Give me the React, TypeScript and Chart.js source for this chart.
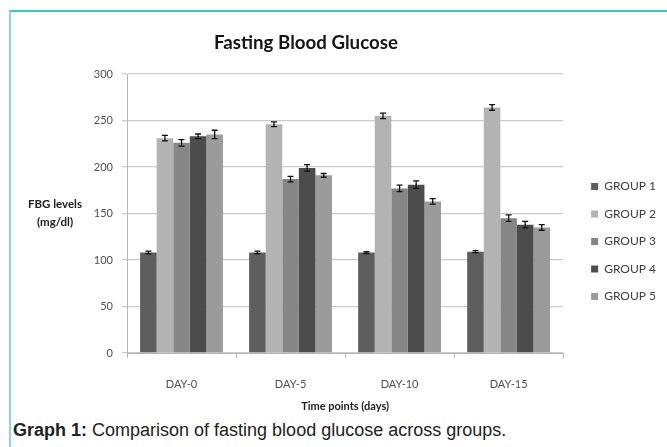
import React, { useEffect, useRef } from "react";
import { Chart, registerables } from "chart.js";

Chart.register(...registerables);

const categories = ["DAY-0", "DAY-5", "DAY-10", "DAY-15"];
const seriesNames = ["GROUP 1", "GROUP 2", "GROUP 3", "GROUP 4", "GROUP 5"];
const group1 = [108, 108, 108, 109];
const group2 = [231, 246, 255, 264];
const group3 = [226, 187, 177, 145];
const group4 = [233, 199, 181, 138];
const group5 = [235, 191, 163, 135];
const err1 = [1.5, 1.5, 1, 1];
const err2 = [3, 2.5, 3, 3];
const err3 = [3.5, 3, 3.5, 3.5];
const err4 = [2.5, 3.5, 4, 3.5];
const err5 = [4.5, 2, 3, 3];
const yTicks = [0, 50, 100, 150, 200, 250, 300];
const colors = ["#5e5e5e", "#b3b3b3", "#868686", "#4c4c4c", "#9b9b9b"];

const FONT = "Lato, 'Liberation Sans', sans-serif";

const errorBarPlugin = {
  id: "errorBars",
  afterDatasetsDraw(chart: any) {
    const ctx = chart.ctx;
    const yScale = chart.scales.y;
    ctx.save();
    ctx.strokeStyle = "#111111";
    ctx.lineWidth = 1.3;
    chart.data.datasets.forEach((ds: any, i: number) => {
      const meta = chart.getDatasetMeta(i);
      meta.data.forEach((bar: any, j: number) => {
        const v = ds.data[j];
        const e = ds.errors[j];
        const x = bar.x;
        const yt = yScale.getPixelForValue(v + e);
        const yb = yScale.getPixelForValue(v - e);
        ctx.beginPath();
        ctx.moveTo(x, yt);
        ctx.lineTo(x, yb);
        ctx.moveTo(x - 3, yt);
        ctx.lineTo(x + 3, yt);
        ctx.moveTo(x - 3, yb);
        ctx.lineTo(x + 3, yb);
        ctx.stroke();
      });
    });
    ctx.restore();
  },
};

export default function App() {
  const ref = useRef<HTMLCanvasElement | null>(null);

  useEffect(() => {
    if (!ref.current) return;
    const values = [group1, group2, group3, group4, group5];
    const errors = [err1, err2, err3, err4, err5];
    const chart = new Chart(ref.current, {
      type: "bar",
      data: {
        labels: categories,
        datasets: seriesNames.map((name, i) => ({
          label: name,
          data: values[i],
          errors: errors[i],
          backgroundColor: colors[i],
          borderWidth: 0,
          categoryPercentage: 0.76,
          barPercentage: 1,
        })) as any,
      },
      options: {
        animation: false,
        responsive: false,
        devicePixelRatio: 1,
        layout: { padding: { top: 74, left: 60, right: 1, bottom: 0 } },
        plugins: {
          title: { display: false },
          tooltip: { enabled: false },
          legend: {
            position: "right",
            align: "center",
            fullSize: false,
            title: { display: true, text: "", padding: 0, font: { size: 10, lineHeight: "56px" } },
            labels: {
              boxWidth: 7,
              boxHeight: 7,
              padding: 15.5,
              color: "#404040",
              font: { family: FONT, size: 12 },
            },
          },
        },
        scales: {
          x: {
            grid: {
              display: true,
              drawOnChartArea: false,
              drawTicks: true,
              tickLength: 5,
              offset: true,
              color: "#b4b4b4",
            },
            border: { display: true, color: "#b4b4b4", width: 1 },
            ticks: { color: "#505050", padding: 20, font: { family: FONT, size: 11 } },
            title: {
              display: true,
              text: "Time points (days)",
              color: "#202020",
              padding: { top: 4, bottom: 7 },
              font: { family: FONT, size: 11, weight: "bold" },
            },
            afterFit: (s: any) => {
              s.height = 67;
            },
          },
          y: {
            min: 0,
            max: 300,
            grid: { color: "#cccccc", lineWidth: 1.3, tickLength: 5, drawTicks: true },
            border: { display: true, color: "#b4b4b4", width: 1 },
            ticks: { color: "#505050", padding: 9, font: { family: FONT, size: 11 } },
            afterBuildTicks: (s: any) => {
              s.ticks = yTicks.map((v) => ({ value: v }));
            },
            afterFit: (s: any) => {
              s.width = 67;
            },
          },
          gap: {
            position: "right",
            display: true,
            grid: { display: false },
            border: { display: false },
            ticks: { display: false },
            afterFit: (s: any) => {
              s.width = 12.5;
            },
          },
        },
      } as any,
      plugins: [errorBarPlugin],
    });
    return () => chart.destroy();
  }, []);

  return (
    <div
      style={{
        position: "fixed",
        left: 0,
        top: 0,
        width: 667,
        height: 447,
        background: "#ffffff",
        overflow: "hidden",
      }}
    >
      <div
        style={{
          position: "absolute",
          left: 9,
          top: 10,
          width: 720,
          height: 500,
          borderTop: "2px solid #3ec9b3",
          borderLeft: "2px solid #86dccf",
        }}
      />
      <canvas ref={ref} width={667} height={420} style={{ position: "absolute", left: 0, top: 0 }} />
      <div
        style={{
          position: "absolute",
          left: 0,
          width: 612,
          top: 30,
          textAlign: "center",
          fontFamily: FONT,
          fontWeight: 700,
          fontSize: 18.7,
          lineHeight: "24px",
          color: "#151515",
        }}
      >
        Fasting Blood Glucose
      </div>
      <div
        style={{
          position: "absolute",
          left: 18,
          width: 74,
          top: 195,
          textAlign: "center",
          fontFamily: FONT,
          fontWeight: 700,
          fontSize: 11.5,
          lineHeight: "18px",
          color: "#202020",
        }}
      >
        FBG levels
        <br />
        (mg/dl)
      </div>
      <div
        style={{
          position: "absolute",
          left: 13,
          top: 420,
          fontFamily: "'Liberation Sans', Arial, sans-serif",
          fontSize: 18,
          lineHeight: "21px",
          color: "#222222",
          whiteSpace: "nowrap",
        }}
      >
        <b>Graph 1:</b> Comparison of fasting blood glucose across groups.
      </div>
    </div>
  );
}
